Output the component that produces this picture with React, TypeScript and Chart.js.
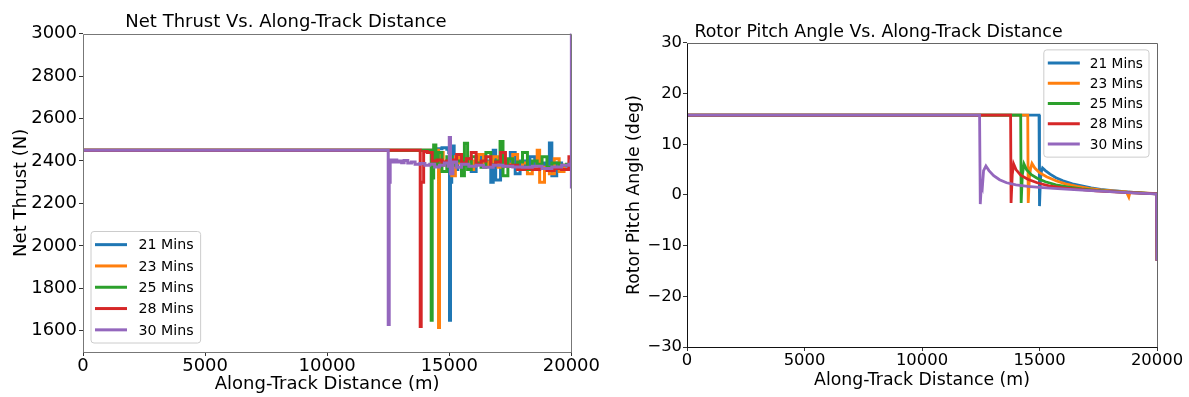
import React, { useEffect, useRef } from "react";
import { Chart, registerables } from "chart.js";

Chart.register(...registerables);

const FONT = "'DejaVu Sans', sans-serif";

const SERIES_LABELS = ["21 Mins", "23 Mins", "25 Mins", "28 Mins", "30 Mins"];
const SERIES_COLORS = ["#1f77b4", "#ff7f0e", "#2ca02c", "#d62728", "#9467bd"];

const X_TICKS = [0, 5000, 10000, 15000, 20000];
const THRUST_TICKS = [1600, 1800, 2000, 2200, 2400, 2600, 2800, 3000];
const PITCH_TICKS = [-30, -20, -10, 0, 10, 20, 30];

// ---- Net thrust (N) vs along-track distance (m) ----
const THRUST_21_X = [0, 14300, 14500, 14700, 14900, 14980, 15010, 15050, 15100, 15200, 15350, 15500, 15700, 15900, 16100, 16300, 16500, 16700, 16800, 16900, 17100, 17300, 17500, 17700, 17900, 18100, 18300, 18500, 18700, 18900, 19100, 19200, 19400, 19600, 19800, 20000];
const THRUST_21_Y = [2450, 2450, 2458, 2462, 2455, 2440, 1650, 2300, 2470, 2360, 2420, 2380, 2410, 2350, 2420, 2390, 2400, 2300, 2450, 2310, 2400, 2380, 2440, 2340, 2400, 2380, 2420, 2370, 2390, 2360, 2485, 2330, 2390, 2375, 2380, 2380];

const THRUST_23_X = [0, 14520, 14560, 14600, 14650, 14750, 14900, 15100, 15250, 15400, 15600, 15800, 16000, 16200, 16400, 16600, 16800, 17000, 17200, 17400, 17600, 17800, 18000, 18200, 18400, 18600, 18700, 18900, 19100, 19300, 19500, 19700, 19900, 20000];
const THRUST_23_Y = [2450, 2450, 1615, 2350, 2440, 2380, 2400, 2330, 2420, 2390, 2410, 2360, 2400, 2430, 2380, 2395, 2420, 2370, 2400, 2385, 2430, 2360, 2390, 2340, 2370, 2450, 2300, 2370, 2340, 2410, 2350, 2380, 2375, 2370];

const THRUST_25_X = [0, 14220, 14260, 14300, 14360, 14450, 14550, 14700, 14900, 15100, 15300, 15500, 15620, 15750, 15900, 16100, 16300, 16500, 16700, 16900, 17080, 17200, 17400, 17600, 17800, 18000, 18200, 18400, 18600, 18800, 19000, 19200, 19500, 19800, 20000];
const THRUST_25_Y = [2450, 2450, 1650, 2320, 2475, 2380, 2440, 2350, 2420, 2380, 2400, 2330, 2483, 2360, 2420, 2390, 2370, 2440, 2380, 2400, 2492, 2330, 2410, 2380, 2395, 2440, 2360, 2400, 2385, 2420, 2370, 2390, 2380, 2385, 2380];

const THRUST_28_X = [0, 13780, 13810, 13850, 13950, 14100, 14300, 14500, 14700, 14900, 15100, 15300, 15500, 15700, 15900, 16100, 16300, 16500, 16700, 16900, 17100, 17300, 17500, 17800, 18100, 18400, 18700, 19000, 19300, 19600, 19900, 20000];
const THRUST_28_Y = [2450, 2450, 1620, 2300, 2445, 2440, 2400, 2405, 2395, 2400, 2405, 2430, 2390, 2410, 2440, 2385, 2400, 2420, 2380, 2395, 2440, 2375, 2380, 2360, 2365, 2360, 2365, 2355, 2365, 2360, 2420, 2390];

const THRUST_30_X = [0, 12450, 12500, 12540, 12580, 12650, 12750, 12850, 12950, 13050, 13150, 13300, 13450, 13600, 13800, 14000, 14200, 14400, 14600, 14800, 14950, 15000, 15050, 15150, 15300, 15500, 15800, 16100, 16400, 16800, 17200, 17600, 18000, 18400, 18800, 19200, 19600, 19900, 19980, 20000, 20000];
const THRUST_30_Y = [2450, 2450, 1630, 2300, 2405, 2395, 2405, 2395, 2400, 2392, 2402, 2390, 2395, 2385, 2388, 2380, 2385, 2372, 2380, 2390, 2375, 2510, 2340, 2395, 2370, 2385, 2375, 2380, 2370, 2380, 2375, 2372, 2370, 2375, 2365, 2372, 2380, 2385, 2400, 2270, 3050];

// ---- Rotor pitch angle (deg) vs along-track distance (m) ----
const PITCH_21_X = [0, 14980, 15000, 15040, 15080, 15130, 15250, 15450, 15700, 16000, 16400, 16800, 17200, 17600, 18000, 18500, 19000, 19500, 19980, 20000];
const PITCH_21_Y = [15.75, 15.75, -2.2, 3.0, 4.6, 5.3, 4.8, 4.1, 3.4, 2.8, 2.2, 1.8, 1.4, 1.1, 0.9, 0.7, 0.5, 0.35, 0.2, -13];

const PITCH_23_X = [0, 14500, 14520, 14570, 14620, 14680, 14800, 15000, 15300, 15700, 16100, 16600, 17100, 17600, 18100, 18700, 18800, 18850, 19400, 19980, 20000];
const PITCH_23_Y = [15.75, 15.75, -1.6, 3.5, 5.2, 6.2, 5.3, 4.4, 3.6, 2.8, 2.2, 1.7, 1.3, 1.0, 0.8, 0.6, -0.4, 0.55, 0.4, 0.25, -13];

const PITCH_25_X = [0, 14200, 14220, 14270, 14340, 14450, 14650, 14900, 15250, 15700, 16200, 16800, 17400, 18000, 18700, 19400, 19980, 20000];
const PITCH_25_Y = [15.75, 15.75, -1.6, 4.0, 6.1, 5.0, 4.0, 3.3, 2.6, 2.0, 1.6, 1.2, 0.9, 0.7, 0.5, 0.35, 0.2, -13];

const PITCH_28_X = [0, 13770, 13790, 13840, 13900, 14000, 14200, 14500, 14900, 15400, 16000, 16700, 17400, 18200, 19000, 19980, 20000];
const PITCH_28_Y = [15.75, 15.75, -1.6, 4.0, 6.1, 5.0, 3.9, 3.1, 2.4, 1.8, 1.4, 1.1, 0.8, 0.6, 0.4, 0.2, -13];

const PITCH_30_X = [0, 12450, 12480, 12530, 12570, 12620, 12720, 12850, 13050, 13300, 13600, 14000, 14500, 15000, 15600, 16300, 17000, 17800, 18600, 19400, 19980, 20000];
const PITCH_30_Y = [15.75, 15.75, -1.8, 2.2, 1.6, 4.8, 5.7, 4.8, 3.8, 3.0, 2.4, 2.0, 1.7, 1.5, 1.3, 1.1, 0.9, 0.7, 0.5, 0.3, 0.2, -13];

const THRUST_SERIES = [
  [THRUST_21_X, THRUST_21_Y],
  [THRUST_23_X, THRUST_23_Y],
  [THRUST_25_X, THRUST_25_Y],
  [THRUST_28_X, THRUST_28_Y],
  [THRUST_30_X, THRUST_30_Y],
];
const PITCH_SERIES = [
  [PITCH_21_X, PITCH_21_Y],
  [PITCH_23_X, PITCH_23_Y],
  [PITCH_25_X, PITCH_25_Y],
  [PITCH_28_X, PITCH_28_Y],
  [PITCH_30_X, PITCH_30_Y],
];

type LegendCfg = {
  corner: "lowerLeft" | "upperRight";
  offX: number;
  offY: number;
  fontSize: number;
  rowH: number;
  padL: number;
  lineLen: number;
  gap: number;
  padR: number;
  padV: number;
};

type FrameCfg = { left: string; bottom: string; top: string; right: string };

function framePlugin(colors: FrameCfg) {
  return {
    id: "frameBox",
    afterDatasetsDraw(chart: any) {
      const { ctx, chartArea: a } = chart;
      ctx.save();
      ctx.lineWidth = 1;
      const seg = (x1: number, y1: number, x2: number, y2: number, c: string) => {
        ctx.strokeStyle = c;
        ctx.beginPath();
        ctx.moveTo(x1, y1);
        ctx.lineTo(x2, y2);
        ctx.stroke();
      };
      const l = Math.round(a.left) + 0.5;
      const r = Math.round(a.right) + 0.5;
      const t = Math.round(a.top) + 0.5;
      const b = Math.round(a.bottom) + 0.5;
      seg(l, t, r, t, colors.top);
      seg(r, t, r, b, colors.right);
      seg(l, b, r, b, colors.bottom);
      seg(l, t, l, b, colors.left);
      ctx.restore();
    },
  };
}

function legendPlugin(cfg: LegendCfg) {
  return {
    id: "boxLegend",
    afterDraw(chart: any) {
      const { ctx, chartArea: a } = chart;
      const datasets = chart.data.datasets;
      ctx.save();
      ctx.font = `${cfg.fontSize}px ${FONT}`;
      let maxW = 0;
      datasets.forEach((d: any) => {
        maxW = Math.max(maxW, ctx.measureText(d.label).width);
      });
      const w = cfg.padL + cfg.lineLen + cfg.gap + maxW + cfg.padR;
      const h = cfg.padV * 2 + cfg.rowH * datasets.length;
      let x0: number;
      let y0: number;
      if (cfg.corner === "lowerLeft") {
        x0 = a.left + cfg.offX;
        y0 = a.bottom - cfg.offY - h;
      } else {
        x0 = a.right - cfg.offX - w;
        y0 = a.top + cfg.offY;
      }
      const rad = 3;
      ctx.beginPath();
      ctx.moveTo(x0 + rad, y0);
      ctx.lineTo(x0 + w - rad, y0);
      ctx.quadraticCurveTo(x0 + w, y0, x0 + w, y0 + rad);
      ctx.lineTo(x0 + w, y0 + h - rad);
      ctx.quadraticCurveTo(x0 + w, y0 + h, x0 + w - rad, y0 + h);
      ctx.lineTo(x0 + rad, y0 + h);
      ctx.quadraticCurveTo(x0, y0 + h, x0, y0 + h - rad);
      ctx.lineTo(x0, y0 + rad);
      ctx.quadraticCurveTo(x0, y0, x0 + rad, y0);
      ctx.closePath();
      ctx.fillStyle = "rgba(255,255,255,0.8)";
      ctx.fill();
      ctx.strokeStyle = "#cccccc";
      ctx.lineWidth = 1;
      ctx.stroke();
      ctx.textBaseline = "middle";
      ctx.textAlign = "left";
      datasets.forEach((d: any, i: number) => {
        const cy = y0 + cfg.padV + cfg.rowH * (i + 0.5);
        ctx.strokeStyle = d.borderColor;
        ctx.lineWidth = 3;
        ctx.beginPath();
        ctx.moveTo(x0 + cfg.padL, cy);
        ctx.lineTo(x0 + cfg.padL + cfg.lineLen, cy);
        ctx.stroke();
        ctx.fillStyle = "#000";
        ctx.fillText(d.label, x0 + cfg.padL + cfg.lineLen + cfg.gap, cy + 1);
      });
      ctx.restore();
    },
  };
}

type PanelProps = {
  left: number;
  width: number;
  height: number;
  title: string;
  titleSize: number;
  titlePad: { top: number; bottom: number };
  yLabel: string;
  series: number[][][];
  lineWidth: number;
  stepped: boolean;
  yMin: number;
  yMax: number;
  yTicks: number[];
  tickSize: number;
  labelSize: number;
  yAxisWidth: number;
  xAxisHeight: number;
  padRight: number;
  yTitlePad: number;
  xTitlePadBottom: number;
  xTickPad: number;
  yTickPad: number;
  frame: FrameCfg;
  legend: LegendCfg;
};

function Panel(p: PanelProps) {
  const ref = useRef<HTMLCanvasElement | null>(null);
  useEffect(() => {
    if (!ref.current) return;
    const fmt = (v: number) => (v < 0 ? "\u2212" + String(Math.abs(v)) : String(v));
    const n = SERIES_LABELS.length;
    const datasets = p.series.map(([xs, ys], i) => ({
      label: SERIES_LABELS[i],
      data: xs.map((x, j) => ({ x, y: ys[j] })),
      borderColor: SERIES_COLORS[i],
      backgroundColor: SERIES_COLORS[i],
      borderWidth: p.lineWidth,
      pointRadius: 0,
      tension: 0,
      stepped: p.stepped,
      fill: false,
      order: n - 1 - i,
    }));
    const chart = new Chart(ref.current, {
      type: "line",
      data: { datasets },
      options: {
        animation: false,
        responsive: false,
        events: [],
        layout: { padding: { left: 0, right: p.padRight, top: 0, bottom: 0 } },
        plugins: {
          legend: { display: false },
          tooltip: { enabled: false },
          title: {
            display: true,
            text: p.title,
            color: "#000",
            font: { family: FONT, size: p.titleSize, weight: "normal" },
            padding: p.titlePad,
          },
        },
        scales: {
          x: {
            type: "linear",
            min: 0,
            max: 20000,
            afterBuildTicks: (s: any) => {
              s.ticks = X_TICKS.map((v) => ({ value: v }));
            },
            afterFit: (s: any) => {
              s.height = p.xAxisHeight;
            },
            grid: { display: true, drawOnChartArea: false, drawTicks: true, tickLength: 4, color: "#333" },
            border: { display: false },
            ticks: {
              color: "#000",
              font: { family: FONT, size: p.tickSize },
              padding: p.xTickPad,
              maxRotation: 0,
              autoSkip: false,
              callback: (v: any) => fmt(Number(v)),
            },
            title: {
              display: true,
              text: "Along-Track Distance (m)",
              color: "#000",
              font: { family: FONT, size: p.labelSize },
              padding: { top: 0, bottom: p.xTitlePadBottom },
            },
          },
          y: {
            type: "linear",
            min: p.yMin,
            max: p.yMax,
            afterBuildTicks: (s: any) => {
              s.ticks = p.yTicks.map((v) => ({ value: v }));
            },
            afterFit: (s: any) => {
              s.width = p.yAxisWidth;
            },
            grid: { display: true, drawOnChartArea: false, drawTicks: true, tickLength: 4, color: "#333" },
            border: { display: false },
            ticks: {
              color: "#000",
              font: { family: FONT, size: p.tickSize },
              padding: p.yTickPad,
              autoSkip: false,
              callback: (v: any) => fmt(Number(v)),
            },
            title: {
              display: true,
              text: p.yLabel,
              color: "#000",
              font: { family: FONT, size: p.labelSize },
              padding: { top: p.yTitlePad, bottom: 0 },
            },
          },
        },
      } as any,
      plugins: [framePlugin(p.frame), legendPlugin(p.legend)],
    });
    return () => chart.destroy();
  }, []);
  return (
    <div style={{ position: "absolute", left: p.left, top: 0, width: p.width, height: p.height }}>
      <canvas ref={ref} width={p.width} height={p.height} style={{ display: "block" }} />
    </div>
  );
}

export default function App() {
  return (
    <div
      style={{
        position: "fixed",
        left: 0,
        top: 0,
        width: 1189,
        height: 397,
        overflow: "hidden",
        background: "#fff",
      }}
    >
      <Panel
        left={0}
        width={600}
        height={397}
        title="Net Thrust Vs. Along-Track Distance"
        titleSize={18}
        titlePad={{ top: 12, bottom: 0 }}
        yLabel="Net Thrust (N)"
        series={THRUST_SERIES}
        lineWidth={3}
        stepped={true}
        yMin={1500}
        yMax={3000}
        yTicks={THRUST_TICKS}
        tickSize={18}
        labelSize={18}
        yAxisWidth={83}
        xAxisHeight={45}
        padRight={28}
        yTitlePad={11}
        xTitlePadBottom={2}
        xTickPad={0}
        yTickPad={2}
        frame={{ left: "#777", bottom: "#777", top: "#777", right: "#777" }}
        legend={{ corner: "lowerLeft", offX: 8, offY: 9, fontSize: 14.2, rowH: 21.3, padL: 4, lineLen: 32, gap: 11.5, padR: 7, padV: 2.5 }}
      />
      <Panel
        left={600}
        width={589}
        height={397}
        title="Rotor Pitch Angle Vs. Along-Track Distance"
        titleSize={17.4}
        titlePad={{ top: 22, bottom: 0 }}
        yLabel="Rotor Pitch Angle (deg)"
        series={PITCH_SERIES}
        lineWidth={2.8}
        stepped={false}
        yMin={-30}
        yMax={30}
        yTicks={PITCH_TICKS}
        tickSize={16.4}
        labelSize={17.3}
        yAxisWidth={87}
        xAxisHeight={50}
        padRight={32}
        yTitlePad={24}
        xTitlePadBottom={6}
        xTickPad={0}
        yTickPad={1}
        frame={{ left: "#111", bottom: "#111", top: "#666", right: "#666" }}
        legend={{ corner: "upperRight", offX: 8, offY: 7, fontSize: 13.7, rowH: 20.25, padL: 4, lineLen: 32, gap: 10, padR: 6, padV: 3 }}
      />
    </div>
  );
}
